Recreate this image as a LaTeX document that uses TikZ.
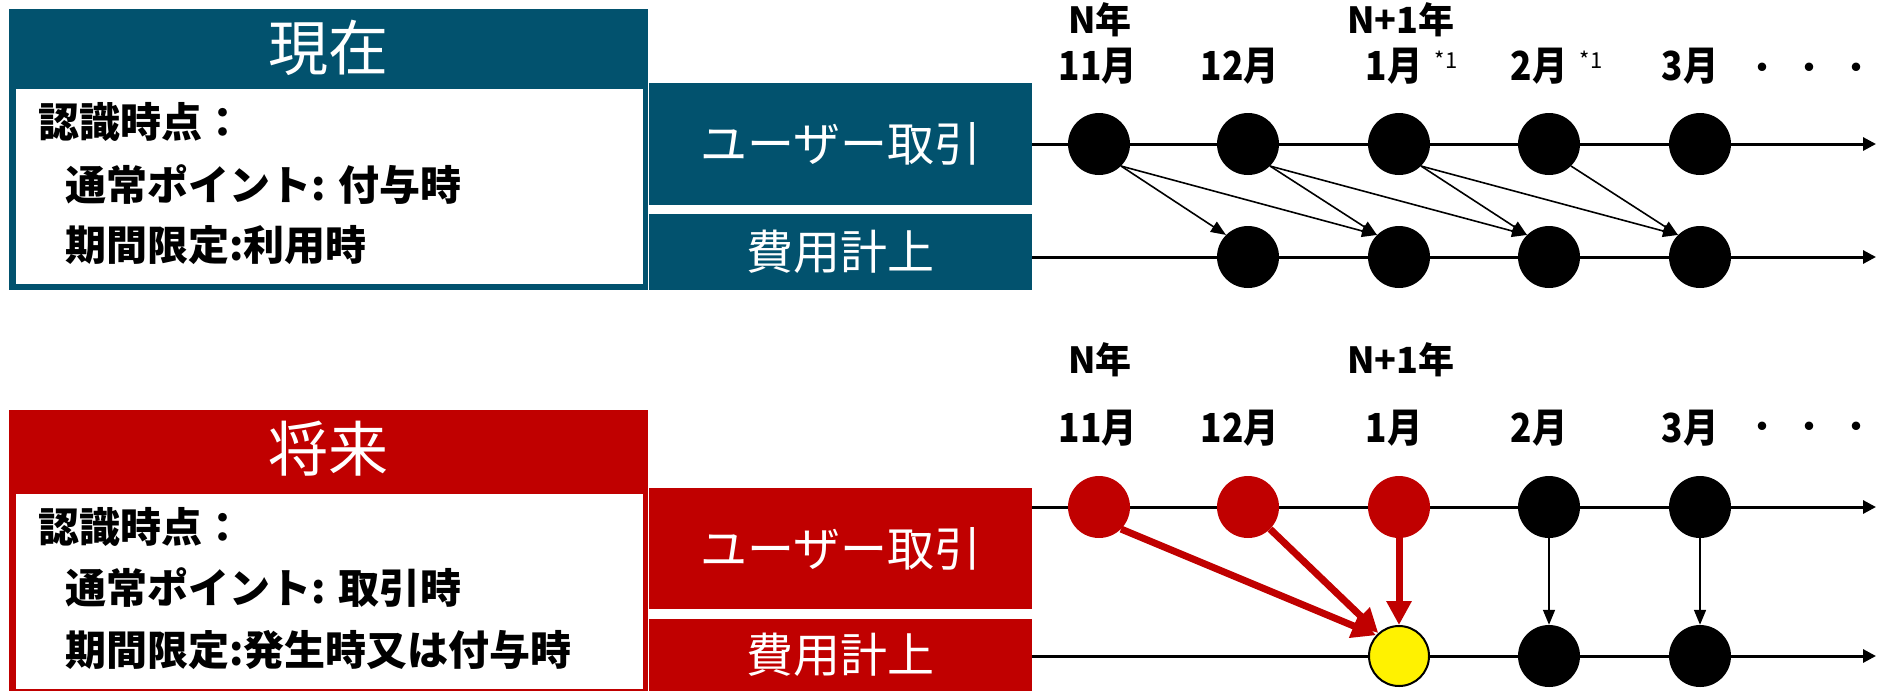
\documentclass[tikz,border=0pt]{standalone}
\usepackage{fontspec}
\setmainfont{Noto Sans CJK JP}
\usetikzlibrary{arrows.meta}
\definecolor{cblue}{RGB}{2,82,110}
\definecolor{cred}{RGB}{192,0,0}
\tikzset{
  pt/.style={circle, fill=black, minimum size=62pt, inner sep=0pt},
  ptred/.style={pt, fill=cred},
  ptyel/.style={circle, fill=yellow, draw=black, line width=2pt, minimum size=60pt, inner sep=0pt},
  tline/.style={line width=3pt, -{Triangle[length=13pt,width=13pt]}},
  thinarr/.style={line width=1.6pt, -{Triangle[length=15pt,width=12pt]}},
  redarr/.style={draw=cred, line width=7pt, -{Triangle[length=24pt,width=24pt]}},
  hdr/.style={text=white, font=\fontsize{60}{60}\selectfont, inner sep=0pt},
  sidebox/.style={anchor=north west, inner sep=0pt, minimum width=383pt, text=white, font=\fontsize{47}{47}\selectfont},
  body/.style={anchor=west, font=\bfseries\fontsize{41}{41}\selectfont, inner sep=0pt},
  yr/.style={font=\bfseries\fontsize{36}{36}\selectfont, inner sep=0pt},
  mon/.style={font=\bfseries\fontsize{40}{40}\selectfont, inner sep=0pt},
  note/.style={font=\fontsize{22}{22}\selectfont, inner sep=0pt},
  dots/.style={font=\fontsize{40}{40}\selectfont, inner sep=0pt},
}
\newcommand{\cmon}[1]{\scalebox{0.88}[1]{#1}}
\begin{document}
\begin{tikzpicture}[x=1pt,y=-1pt]
\useasboundingbox (0,0) rectangle (1878,691);
% ================= TOP (current) =================
\fill[cblue] (9,9) rectangle (648,290);
\fill[white] (16,89) rectangle (643,284);
\node[hdr] (t1) at (328,48) {現在};
\node[body] (t1a) at (38,122) {認識時点：};
\node[body] (t1b) at (65,185) {通常ポイント: 付与時};
\node[body] (t1c) at (65,245) {期間限定:利用時};
\node[sidebox, fill=cblue, minimum height=122pt] (ut1) at (649,83) {ユーザー取引};
\node[sidebox, fill=cblue, minimum height=76pt] (fc1) at (649,214) {費用計上};

\node[yr] (ny1) at (1100,20) {N年};
\node[yr] (ny2) at (1401,20) {N+1年};
\node[mon] (m11) at (1098,66) {\cmon{11月}};
\node[mon] (m12) at (1240,66) {\cmon{12月}};
\node[mon] (m1) at (1394,66) {\cmon{1月}};
\node[note] (s1) at (1446,60) {*1};
\node[mon] (m2) at (1539,66) {\cmon{2月}};
\node[note] (s2) at (1591,60) {*1};
\node[mon] (m3) at (1690,66) {\cmon{3月}};
\node[dots] (d1) at (1809,73) {・\hspace{7pt}・\hspace{7pt}・};

\coordinate (e1) at (1876,144);
\coordinate (b2) at (1032,257);
\coordinate (e2) at (1876,257);
\draw[tline] (ut1.east |- e1) -- (e1);
\draw[tline] (b2) -- (e2);

\foreach \i/\x in {1/1099,2/1248,3/1399,4/1549,5/1700}
  \node[pt] (u\i) at (\x,144) {};
\foreach \i/\x in {2/1248,3/1399,4/1549,5/1700}
  \node[pt] (l\i) at (\x,257) {};

\draw[thinarr] (u1.-45) -- (l2.135);
\draw[thinarr] (u1.-45) -- (l3.135);
\draw[thinarr] (u2.-45) -- (l3.135);
\draw[thinarr] (u2.-45) -- (l4.135);
\draw[thinarr] (u3.-45) -- (l4.135);
\draw[thinarr] (u3.-45) -- (l5.135);
\draw[thinarr] (u4.-45) -- (l5.135);

% ================= BOTTOM (future) =================
\fill[cred] (9,410) rectangle (648,691);
\fill[white] (16,494) rectangle (643,689);
\node[hdr] (t2) at (328,449) {将来};
\node[body] (t2a) at (38,527) {認識時点：};
\node[body] (t2b) at (65,588) {通常ポイント: 取引時};
\node[body] (t2c) at (65,650) {期間限定:発生時又は付与時};
\node[sidebox, fill=cred, minimum height=121pt] (ut2) at (649,488) {ユーザー取引};
\node[sidebox, fill=cred, minimum height=72pt] (fc2) at (649,619) {費用計上};

\node[yr] (ny3) at (1100,360) {N年};
\node[yr] (ny4) at (1401,360) {N+1年};
\node[mon] (n11) at (1098,428) {\cmon{11月}};
\node[mon] (n12) at (1240,428) {\cmon{12月}};
\node[mon] (n1) at (1394,428) {\cmon{1月}};
\node[mon] (n2) at (1539,428) {\cmon{2月}};
\node[mon] (n3) at (1690,428) {\cmon{3月}};
\node[dots] (d2) at (1809,432) {・\hspace{7pt}・\hspace{7pt}・};

\coordinate (b3) at (1032,507);
\coordinate (e3) at (1876,507);
\coordinate (b4) at (1032,656);
\coordinate (e4) at (1876,656);
\draw[tline] (b3) -- (e3);
\draw[tline] (b4) -- (e4);

\node[ptred] (v1) at (1099,507) {};
\node[ptred] (v2) at (1248,507) {};
\node[ptred] (v3) at (1399,507) {};
\node[pt] (v4) at (1549,507) {};
\node[pt] (v5) at (1700,507) {};
\node[ptyel] (w3) at (1399,656) {};
\node[pt] (w4) at (1549,656) {};
\node[pt] (w5) at (1700,656) {};

\draw[redarr] (v1.-45) -- (w3.138);
\draw[redarr] (v2.-45) -- (w3.132);
\draw[redarr] (v3.south) -- (w3.north);
\draw[thinarr] (v4.south) -- (w4.north);
\draw[thinarr] (v5.south) -- (w5.north);
\end{tikzpicture}
\end{document}
